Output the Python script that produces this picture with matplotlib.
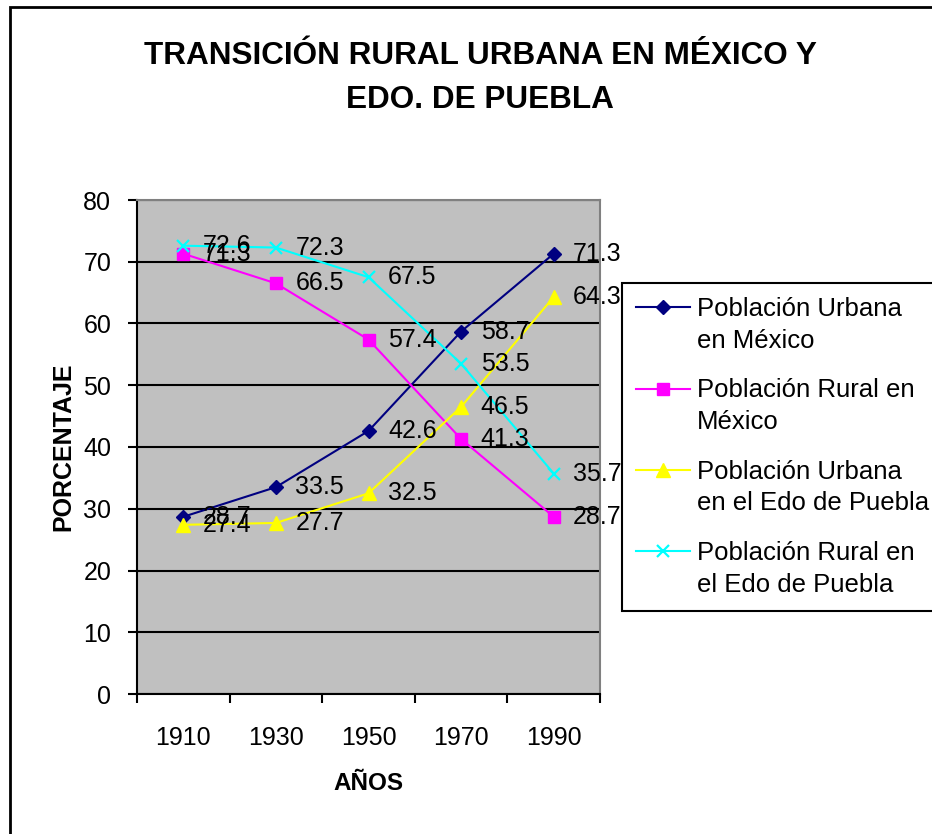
import numpy as np
import matplotlib
matplotlib.use("Agg")
import matplotlib.pyplot as plt
from matplotlib.patches import Rectangle
from matplotlib.legend_handler import HandlerLine2D

plt.rcParams['font.family'] = ['Liberation Sans', 'DejaVu Sans']

# ---- data ----
years = ["1910", "1930", "1950", "1970", "1990"]
urbana_mexico = [28.7, 33.5, 42.6, 58.7, 71.3]
rural_mexico = [71.3, 66.5, 57.4, 41.3, 28.7]
urbana_puebla = [27.4, 27.7, 32.5, 46.5, 64.3]
rural_puebla = [72.6, 72.3, 67.5, 53.5, 35.7]
series_labels = ["Población Urbana\nen México",
                 "Población Rural en\nMéxico",
                 "Población Urbana\nen el Edo de Puebla",
                 "Población Rural en\nel Edo de Puebla"]
y_ticks = [0, 10, 20, 30, 40, 50, 60, 70, 80]

title = "TRANSICIÓN RURAL URBANA EN MÉXICO Y\nEDO. DE PUEBLA"
xlabel = "AÑOS"
ylabel = "PORCENTAJE"

# ---- styles ----
styles = [
    dict(color="#000080", marker="D", ms=7, mfc="#000080", mec="#000080", mew=1),
    dict(color="#FF00FF", marker="s", ms=8.5, mfc="#FF00FF", mec="#FF00FF", mew=1),
    dict(color="#FFFF00", marker="^", ms=10.5, mfc="#FFFF00", mec="#FFFF00", mew=1),
    dict(color="#00FFFF", marker="x", ms=9, mfc="#00FFFF", mec="#00FFFF", mew=1.6),
]

W, H = 932, 834
fig = plt.figure(figsize=(W / 100, H / 100), dpi=100)
fig.patch.set_facecolor("white")

ax = fig.add_axes([137 / W, 1 - 694 / H, 463 / W, 494 / H])
ax.set_facecolor("#C0C0C0")

x = np.arange(len(years))
all_series = [urbana_mexico, rural_mexico, urbana_puebla, rural_puebla]
lines = []
for vals, lab, st in zip(all_series, series_labels, styles):
    ln, = ax.plot(x, vals, lw=1.5, label=lab, zorder=3, clip_on=False, **st)
    lines.append(ln)
    for xi, v in zip(x, vals):
        ax.annotate(f"{v:.1f}", (xi, v), xytext=(14, 0), textcoords="offset points",
                    ha="left", va="center", fontsize=18, color="black",
                    annotation_clip=False, zorder=5)

ax.set_xlim(-0.5, len(years) - 0.5)
ax.set_ylim(0, 80)
ax.set_yticks(y_ticks)
ax.tick_params(axis="y", direction="out", length=6.5, width=1.5, labelsize=18, pad=12)
ax.set_xticks(np.arange(-0.5, len(years), 1.0))
ax.set_xticklabels([])
ax.set_xticks(x, minor=True)
ax.set_xticklabels(years, minor=True)
ax.tick_params(axis="x", which="major", direction="out", length=6.5, width=1.5)
ax.tick_params(axis="x", which="minor", length=0, labelsize=18, pad=23)

ax.set_axisbelow(True)
ax.yaxis.grid(True, color="black", lw=1.5)
ax.xaxis.grid(False)
for s in ["left", "bottom"]:
    ax.spines[s].set_color("black")
    ax.spines[s].set_linewidth(1.5)
for s in ["top", "right"]:
    ax.spines[s].set_color("#808080")
    ax.spines[s].set_linewidth(1.5)

ax.set_xlabel(xlabel, fontsize=17.5, fontweight="bold", labelpad=16)
ax.set_ylabel(ylabel, fontsize=18, fontweight="bold", labelpad=6)

fig.text(480 / W, 1 - 78 / H, title, ha="center", va="center", fontsize=22.7,
         fontweight="bold", linespacing=1.6)


class FirstLineHandler(HandlerLine2D):
    def __init__(self, shift, **kw):
        super().__init__(**kw)
        self.shift = shift

    def create_artists(self, legend, orig_handle, xdescent, ydescent, width,
                       height, fontsize, trans):
        arts = super().create_artists(legend, orig_handle, xdescent, ydescent,
                                      width, height, fontsize, trans)
        for a in arts:
            a.set_ydata(np.asarray(a.get_ydata(), float) + self.shift * fontsize)
        return arts


hmap = {ln: FirstLineHandler(0.7, numpoints=1) for ln in lines}
leg = fig.legend(handles=lines, labels=series_labels, loc="upper left",
                 bbox_to_anchor=(622 / W, 1 - 283 / H), bbox_transform=fig.transFigure,
                 borderaxespad=0, fontsize=18.5, handlelength=2.1, handletextpad=0.27,
                 borderpad=0.55, labelspacing=1.0, fancybox=False, framealpha=1,
                 edgecolor="black", facecolor="white", handler_map=hmap)
leg.get_frame().set_linewidth(1.5)
for t in leg.get_texts():
    t.set_linespacing(1.4)

# outer chart border
fig.patches.append(Rectangle((10 / W, -0.2), 1.5, 1.2 - 7 / H, transform=fig.transFigure,
                             fill=False, edgecolor="black", lw=2, zorder=0))

fig.savefig("out.png", dpi=100)
